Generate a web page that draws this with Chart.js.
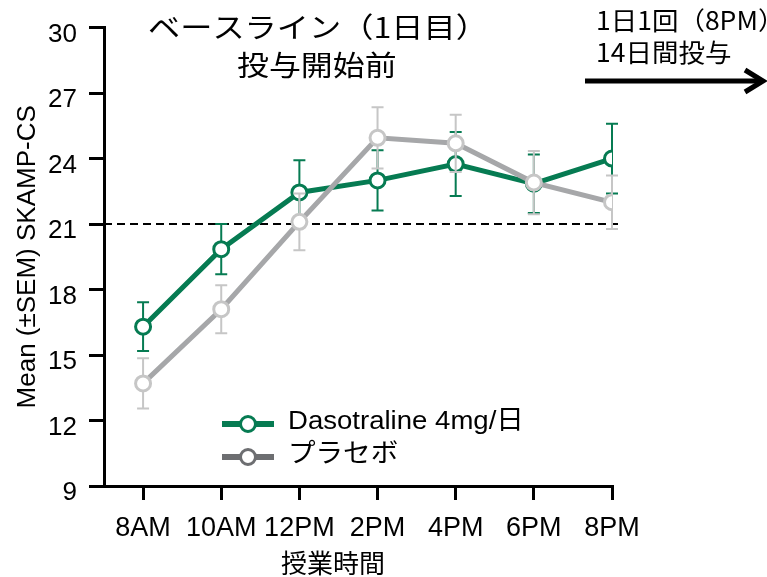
<!DOCTYPE html>
<html>
<head>
<meta charset="utf-8">
<script src="https://cdn.jsdelivr.net/npm/chart.js@4.4.1/dist/chart.umd.min.js"></script>
<style>
  html, body { margin: 0; padding: 0; background: #fff; }
  canvas { display: block; }
</style>
</head>
<body>
<canvas id="grafica" width="767" height="577"></canvas>
<script>
// ------------- datos -------------
const horas = ['8AM', '10AM', '12PM', '2PM', '4PM', '6PM', '8PM'];
const dasotraline = [16.3, 19.85, 22.45, 23.0, 23.75, 22.85, 24.0];
const dasotralineSem = [1.12, 1.15, 1.47, 1.38, 1.47, 1.34, 1.6];
const placebo = [13.7, 17.1, 21.1, 24.95, 24.7, 22.9, 22.0];
const placeboSem = [1.15, 1.1, 1.3, 1.4, 1.31, 1.45, 1.23];
const yTicks = [9, 12, 15, 18, 21, 24, 27, 30];
const nivelRef = 21;

const verde = '#067b52';
const grisLinea = '#a6a7a9';
const grisPunto = '#c6c6c6';
const grisLeyenda = '#6d6e71';
const fuente = '"Liberation Sans", Arial, "Noto Sans CJK JP", sans-serif';
const fuenteJp = '"Noto Sans CJK JP", "Liberation Sans", sans-serif';

const puntos = (vals, sem) => vals.map((v, i) => ({ x: i, y: v, sem: sem[i] }));

// texto con estiramiento horizontal (el original viene estirado)
function textoEstirado(ctx, txt, x, y, sx) {
  ctx.save();
  ctx.translate(x, y);
  ctx.scale(sx, 1);
  ctx.fillText(txt, 0, 0);
  ctx.restore();
}

// barras de error (SEM), dibujadas justo antes de cada serie
const barrasError = {
  id: 'barrasError',
  beforeDatasetDraw(chart, args) {
    const ds = chart.data.datasets[args.index];
    const ctx = chart.ctx;
    const ys = chart.scales.y;
    const xs = chart.scales.x;
    ctx.save();
    ctx.strokeStyle = ds.errorColor;
    ctx.lineWidth = 2;
    ds.data.forEach(p => {
      const x = xs.getPixelForValue(p.x);
      const y1 = ys.getPixelForValue(p.y + p.sem);
      const y2 = ys.getPixelForValue(p.y - p.sem);
      ctx.beginPath();
      ctx.moveTo(x, y1); ctx.lineTo(x, y2);
      ctx.moveTo(x - 6, y1); ctx.lineTo(x + 6, y1);
      ctx.moveTo(x - 6, y2); ctx.lineTo(x + 6, y2);
      ctx.stroke();
    });
    ctx.restore();
  }
};

// linea punteada de referencia en 21
const lineaRef = {
  id: 'lineaRef',
  beforeDatasetsDraw(chart) {
    const ctx = chart.ctx;
    const a = chart.chartArea;
    const y = chart.scales.y.getPixelForValue(nivelRef);
    ctx.save();
    ctx.strokeStyle = '#000';
    ctx.lineWidth = 2;
    ctx.setLineDash([8, 5]);
    ctx.beginPath();
    ctx.moveTo(a.left, y);
    ctx.lineTo(a.right + 6, y);
    ctx.stroke();
    ctx.restore();
  }
};

// textos, flecha y leyenda
const textos = {
  id: 'textos',
  afterDraw(chart) {
    const ctx = chart.ctx;
    ctx.save();
    ctx.fillStyle = '#000';
    ctx.textBaseline = 'alphabetic';
    ctx.textAlign = 'left';

    ctx.font = '28px ' + fuenteJp;
    textoEstirado(ctx, 'ベースライン（1日目）', 148, 38, 1.15);
    textoEstirado(ctx, '投与開始前', 237, 76, 1.14);

    ctx.font = '25px ' + fuenteJp;
    textoEstirado(ctx, '1日1回（8PM）', 596, 30, 1.06);
    textoEstirado(ctx, '14日間投与', 596, 62, 1.06);

    // flecha
    ctx.strokeStyle = '#000';
    ctx.lineWidth = 5;
    ctx.beginPath();
    ctx.moveTo(585, 81); ctx.lineTo(762, 81);
    ctx.stroke();
    ctx.beginPath();
    ctx.moveTo(745, 70); ctx.lineTo(763, 81); ctx.lineTo(745, 92);
    ctx.stroke();

    // eje x titulo
    ctx.textAlign = 'center';
    ctx.font = '26px ' + fuenteJp;
    ctx.fillText('授業時間', 333, 573);

    // leyenda
    const filas = [
      { txt: 'Dasotraline 4mg/日', linea: verde, borde: verde, y: 424 },
      { txt: 'プラセボ', linea: grisLeyenda, borde: grisLeyenda, y: 457 }
    ];
    filas.forEach(f => {
      ctx.strokeStyle = f.linea;
      ctx.lineWidth = 6;
      ctx.beginPath();
      ctx.moveTo(222, f.y); ctx.lineTo(274, f.y);
      ctx.stroke();
      ctx.beginPath();
      ctx.arc(248, f.y, 7.5, 0, Math.PI * 2);
      ctx.fillStyle = '#fff';
      ctx.fill();
      ctx.strokeStyle = f.borde;
      ctx.lineWidth = 3;
      ctx.stroke();
      ctx.fillStyle = '#000';
      ctx.textAlign = 'left';
      ctx.font = '26px ' + fuente;
      textoEstirado(ctx, f.txt, 288, f.y + 5, 1.06);
    });
    ctx.restore();
  }
};

const config = {
  type: 'line',
  data: {
    datasets: [
      {
        label: 'Dasotraline 4mg/日',
        data: puntos(dasotraline, dasotralineSem),
        borderColor: verde,
        borderWidth: 5,
        pointRadius: 7.5,
        pointBorderWidth: 3,
        pointBorderColor: verde,
        pointBackgroundColor: '#fff',
        errorColor: verde,
        order: 1
      },
      {
        label: 'プラセボ',
        data: puntos(placebo, placeboSem),
        borderColor: grisLinea,
        borderWidth: 5,
        pointRadius: 7.5,
        pointBorderWidth: 3,
        pointBorderColor: grisPunto,
        pointBackgroundColor: '#fff',
        errorColor: grisPunto,
        order: 0
      }
    ]
  },
  options: {
    responsive: false,
    animation: false,
    devicePixelRatio: 1,
    layout: { padding: { left: 0, right: 155, top: 22, bottom: 0 } },
    plugins: { legend: { display: false }, tooltip: { enabled: false } },
    scales: {
      x: {
        type: 'linear',
        min: -0.5,
        max: horas.length - 1,
        afterBuildTicks: (s) => { s.ticks = horas.map((h, i) => ({ value: i })); },
        afterFit: (s) => { s.height = 91; },
        ticks: {
          autoSkip: false,
          maxRotation: 0,
          color: '#000',
          padding: 12,
          font: { size: 27, family: fuente },
          callback: (v) => horas[v]
        },
        grid: { drawOnChartArea: false, drawTicks: true, tickLength: 14, color: '#000', lineWidth: 3 },
        border: { color: '#000', width: 3 }
      },
      y: {
        min: 9,
        max: 30,
        afterBuildTicks: (s) => { s.ticks = yTicks.map(v => ({ value: v })); },
        afterFit: (s) => { s.width = 104; },
        ticks: {
          color: '#000',
          padding: 12,
          labelOffset: 7,
          font: { size: 26, family: fuente }
        },
        grid: { drawOnChartArea: false, drawTicks: true, tickLength: 15, color: '#000', lineWidth: 3 },
        border: { color: '#000', width: 3 },
        title: {
          display: true,
          text: 'Mean (±SEM) SKAMP-CS',
          color: '#000',
          font: { size: 26, family: fuente },
          padding: { top: 12, bottom: 0 }
        }
      }
    }
  },
  plugins: [barrasError, lineaRef, textos]
};

new Chart(document.getElementById('grafica'), config);
</script>
</body>
</html>
